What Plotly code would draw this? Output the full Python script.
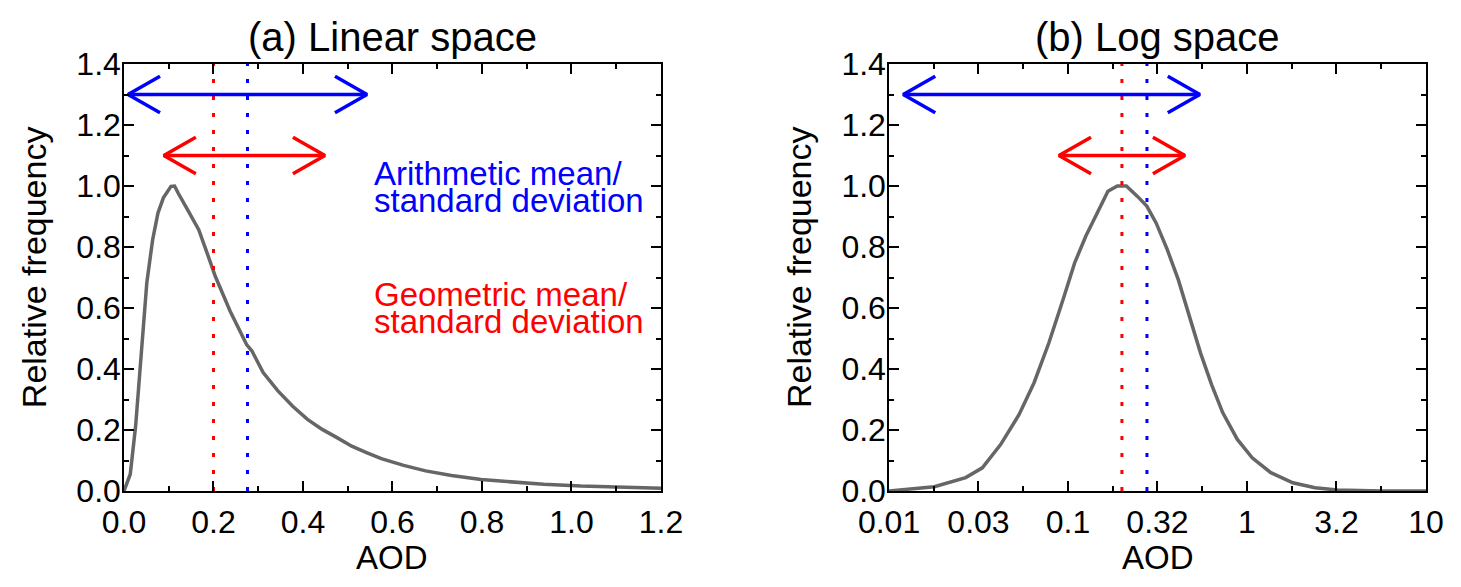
import plotly.graph_objects as go

# relative frequency of AOD
aod_lin = [0.0, 0.014, 0.026, 0.039, 0.051, 0.064, 0.076, 0.088, 0.105, 0.113, 0.121,
           0.146, 0.167, 0.187, 0.204, 0.237, 0.274, 0.286, 0.311, 0.344, 0.377, 0.410,
           0.443, 0.476, 0.509, 0.542, 0.575, 0.625, 0.674, 0.732, 0.798, 0.856, 0.938,
           1.021, 1.103, 1.2]
freq_lin = [0.0, 0.055, 0.213, 0.464, 0.683, 0.824, 0.912, 0.961, 0.999, 1.0, 0.977,
            0.912, 0.857, 0.775, 0.704, 0.590, 0.480, 0.459, 0.388, 0.328, 0.278, 0.235,
            0.202, 0.175, 0.147, 0.126, 0.106, 0.084, 0.066, 0.051, 0.038, 0.031, 0.022,
            0.016, 0.012, 0.009]

# same distribution, log-spaced bins
aod_log = [0.0100, 0.0179, 0.0268, 0.0332, 0.0421, 0.0533, 0.0646, 0.0782, 0.0944, 0.1089,
           0.1256, 0.1449, 0.1671, 0.1884, 0.2118, 0.2443, 0.2754, 0.3105, 0.3581, 0.4130,
           0.4764, 0.5495, 0.6339, 0.7311, 0.8831, 1.069, 1.358, 1.803, 2.399, 3.192,
           5.649, 10.0]
freq_log = [0.0, 0.014, 0.044, 0.076, 0.153, 0.251, 0.355, 0.486, 0.633, 0.748,
            0.835, 0.912, 0.983, 1.0, 1.0, 0.966, 0.934, 0.879, 0.792, 0.693,
            0.573, 0.453, 0.349, 0.257, 0.169, 0.109, 0.060, 0.027, 0.011, 0.003,
            0.0, 0.0]

geo_mean = 0.2
arith_mean = 0.276
# mean -/+ one standard deviation, as drawn in each panel
arith_range_lin = [0.009, 0.543]
geo_range_lin = [0.089, 0.449]
arith_range_log = [0.012, 0.545]
geo_range_log = [0.089, 0.45]
arith_y = 1.3
geo_y = 1.1

log_tickvals = [0.01, 0.0316, 0.1, 0.316, 1, 3.16, 10]
log_ticktext = ["0.01", "0.03", "0.1", "0.32", "1", "3.2", "10"]
log_minorvals = [0.0178, 0.0562, 0.178, 0.562, 1.78, 5.62]

BLUE = "#0000ff"
RED = "#ff0000"
GREY = "#666666"
FONT = "Liberation Sans"


def arrow_xy(lo, hi, y, head_x, head_y, log=False):
    # double arrow with open chevron heads
    if log:
        l_in, r_in = lo * head_x, hi / head_x
    else:
        l_in, r_in = lo + head_x, hi - head_x
    xs = [lo, hi, None, l_in, lo, l_in, None, r_in, hi, r_in]
    ys = [y, y, None, y + head_y, y, y - head_y, None, y + head_y, y, y - head_y]
    return xs, ys


fig = go.Figure()

for xa, ya, ax_x, ax_f, log, ranges in [
    ("x", "y", aod_lin, freq_lin, False, (arith_range_lin, geo_range_lin)),
    ("x2", "y2", aod_log, freq_log, True, (arith_range_log, geo_range_log)),
]:
    fig.add_trace(go.Scatter(x=ax_x, y=ax_f, mode="lines", xaxis=xa, yaxis=ya,
                             line=dict(color=GREY, width=3.5), showlegend=False))
    for xv, col in [(geo_mean, RED), (arith_mean, BLUE)]:
        fig.add_trace(go.Scatter(x=[xv, xv], y=[0, 1.4], mode="lines", xaxis=xa, yaxis=ya,
                                 line=dict(color=col, width=3, dash="4px,13px"),
                                 showlegend=False))
    hx = 1.51 if log else 0.0715
    for rng, yv, col in [(ranges[0], arith_y, BLUE), (ranges[1], geo_y, RED)]:
        xs, ys = arrow_xy(rng[0], rng[1], yv, hx, 0.06, log)
        fig.add_trace(go.Scatter(x=xs, y=ys, mode="lines", xaxis=xa, yaxis=ya,
                                 line=dict(color=col, width=3.5), showlegend=False))

axis_style = dict(showline=True, mirror="allticks", ticks="inside", linecolor="black",
                  linewidth=1.5, tickwidth=1.5, ticklen=10, tickcolor="black",
                  showgrid=False, zeroline=False,
                  tickfont=dict(family=FONT, size=32, color="black"))
minor_lin = dict(dtick=0.1, ticks="inside", ticklen=5, tickwidth=1.5, tickcolor="black")

# the page body adds an 8px margin, so the figure is 8px smaller than the window
fig.update_layout(
    width=1453, height=579,
    margin=dict(l=116, r=35, t=56, b=96),
    plot_bgcolor="white", paper_bgcolor="white",
    xaxis=dict(domain=[0, 0.4124], range=[0, 1.2], dtick=0.2, tickformat=".1f",
               minor=minor_lin, ticklabelstandoff=2, anchor="y", **axis_style),
    yaxis=dict(domain=[0, 1], range=[0, 1.4], dtick=0.2, tickformat=".1f",
               minor=minor_lin, ticklabelstandoff=-5, anchor="x", **axis_style),
    xaxis2=dict(domain=[0.5876, 1], type="log", range=[-2, 1],
                tickmode="array", tickvals=log_tickvals, ticktext=log_ticktext,
                minor=dict(tickmode="array", tickvals=log_minorvals, ticks="inside",
                           ticklen=5, tickwidth=1.5, tickcolor="black"),
                ticklabelstandoff=2, anchor="y2", **axis_style),
    yaxis2=dict(domain=[0, 1], range=[0, 1.4], dtick=0.2, tickformat=".1f",
                minor=minor_lin, ticklabelstandoff=-5, anchor="x2", **axis_style),
)

ann = []
# panel titles
for x, txt in [(0.2062, "(a) Linear space"), (0.7938, "(b) Log space")]:
    ann.append(dict(x=x, y=1.063, xref="paper", yref="paper", text=txt, showarrow=False,
                    xanchor="center", yanchor="middle",
                    font=dict(family=FONT, size=40, color="black")))
# axis titles
for x in [0.2062, 0.7938]:
    ann.append(dict(x=x, y=-0.156, xref="paper", yref="paper", text="AOD", showarrow=False,
                    xanchor="center", yanchor="middle",
                    font=dict(family=FONT, size=33, color="black")))
for x in [-0.069, 0.5185]:
    ann.append(dict(x=x, y=0.5246, xref="paper", yref="paper", text="Relative frequency",
                    textangle=-90, showarrow=False, xanchor="center", yanchor="middle",
                    font=dict(family=FONT, size=34, color="black")))
# legend-style labels
for yv, txt, col in [(1.042, "Arithmetic mean/", BLUE), (0.952, "standard deviation", BLUE),
                     (0.645, "Geometric mean/", RED), (0.555, "standard deviation", RED)]:
    ann.append(dict(x=0.554, y=yv, xref="x", yref="y", text=txt, showarrow=False,
                    xanchor="left", yanchor="middle",
                    font=dict(family=FONT, size=33, color=col)))
fig.update_layout(annotations=ann)

fig.write_html("out.html")
